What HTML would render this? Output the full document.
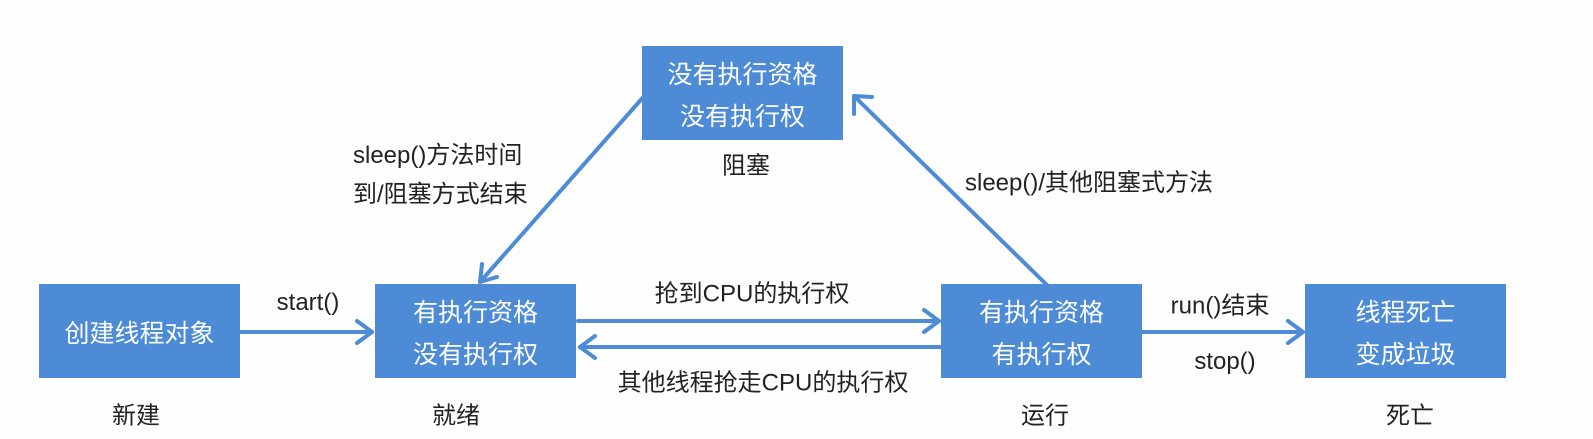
<!DOCTYPE html>
<html><head><meta charset="utf-8"><style>
body{margin:0;width:1593px;height:439px;background:#fefefe;position:relative;overflow:hidden;font-family:"Liberation Sans","Noto Sans CJK SC",sans-serif;}
.b{position:absolute;width:201px;height:94px;background:#4d8bd6;color:#fff;font-size:25px;display:flex;flex-direction:column;justify-content:center;align-items:center;line-height:42px;box-sizing:border-box;padding-top:6px;}
.t{position:absolute;font-size:24px;color:#222;white-space:nowrap;transform:translate(-50%,-50%);}
.l{position:absolute;font-size:24px;color:#222;white-space:nowrap;line-height:39px;}
svg{position:absolute;left:0;top:0;}
</style></head><body>
<svg width="1593" height="439" viewBox="0 0 1593 439">
<g stroke="#4d8bd6" stroke-width="4" fill="none" stroke-linecap="round" stroke-linejoin="round">
<line x1="240" y1="332" x2="372" y2="332"/><polyline points="357,321 372,332 357,343"/>
<line x1="578" y1="321" x2="939" y2="321"/><polyline points="924,310 939,321 924,332"/>
<line x1="941" y1="347" x2="580" y2="347"/><polyline points="595,336 580,347 595,358"/>
<line x1="1142" y1="332" x2="1303" y2="332"/><polyline points="1288,321 1303,332 1288,343"/>
<line x1="646" y1="94" x2="480" y2="282"/><polyline points="482,264 480,282 497,277"/>
<line x1="1048" y1="286" x2="854" y2="96"/><polyline points="854,114 854,96 872,97"/>
</g></svg>
<div class="b" style="left:39px;top:284px">创建线程对象</div>
<div class="b" style="left:375px;top:284px"><div>有执行资格</div><div>没有执行权</div></div>
<div class="b" style="left:941px;top:284px"><div>有执行资格</div><div>有执行权</div></div>
<div class="b" style="left:1305px;top:284px"><div>线程死亡</div><div>变成垃圾</div></div>
<div class="b" style="left:642px;top:46px"><div>没有执行资格</div><div>没有执行权</div></div>
<div class="t" style="left:308px;top:303px">start()</div>
<div class="t" style="left:136px;top:413px">新建</div>
<div class="t" style="left:456px;top:413px">就绪</div>
<div class="t" style="left:1045px;top:413px">运行</div>
<div class="t" style="left:1410px;top:413px">死亡</div>
<div class="t" style="left:746px;top:163px">阻塞</div>
<div class="l" style="left:353px;top:136px">sleep()方法时间<br>到/阻塞方式结束</div>
<div class="t" style="left:1089px;top:180px">sleep()/其他阻塞式方法</div>
<div class="t" style="left:752px;top:291px">抢到CPU的执行权</div>
<div class="t" style="left:763px;top:380px">其他线程抢走CPU的执行权</div>
<div class="t" style="left:1220px;top:303px">run()结束</div>
<div class="t" style="left:1225px;top:362px">stop()</div>
</body></html>
